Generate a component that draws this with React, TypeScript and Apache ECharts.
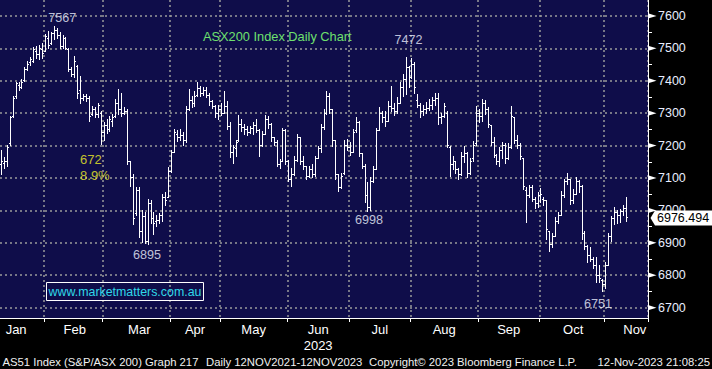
import React, { useEffect, useRef } from 'react';
import * as echarts from 'echarts';

// ---------- DATA ----------
const monthNames = ['Jan', 'Feb', 'Mar', 'Apr', 'May', 'Jun', 'Jul', 'Aug', 'Sep', 'Oct', 'Nov'];

// daily bars: [open, high, low, close]
const jan = [
  [7140, 7186, 7110, 7150], [7145, 7162, 7128, 7150], [7150, 7200, 7135, 7195], [7205, 7290, 7200, 7285],
  [7290, 7350, 7288, 7345], [7350, 7396, 7345, 7390], [7385, 7395, 7370, 7380], [7380, 7405, 7375, 7395],
  [7400, 7440, 7398, 7435], [7435, 7460, 7430, 7450], [7455, 7472, 7448, 7465], [7460, 7502, 7455, 7495],
  [7490, 7505, 7468, 7480], [7480, 7510, 7465, 7500], [7495, 7515, 7470, 7485],
];
const feb = [
  [7490, 7542, 7490, 7535], [7530, 7552, 7500, 7510], [7515, 7550, 7512, 7545], [7545, 7567, 7526, 7555],
  [7555, 7562, 7530, 7540], [7540, 7548, 7500, 7505], [7505, 7540, 7498, 7530], [7530, 7532, 7495, 7500],
  [7495, 7498, 7428, 7435], [7435, 7440, 7412, 7420], [7420, 7474, 7409, 7460], [7445, 7448, 7345, 7360],
  [7370, 7412, 7331, 7345], [7345, 7356, 7340, 7350], [7350, 7356, 7335, 7345], [7345, 7350, 7273, 7290],
  [7295, 7320, 7294, 7310], [7310, 7316, 7285, 7295], [7295, 7331, 7285, 7325], [7300, 7304, 7202, 7240],
];
const mar = [
  [7240, 7272, 7215, 7262], [7262, 7280, 7238, 7250], [7250, 7290, 7243, 7280], [7275, 7295, 7258, 7285],
  [7290, 7342, 7288, 7330], [7330, 7372, 7295, 7310], [7310, 7362, 7290, 7300], [7300, 7318, 7296, 7305],
  [7305, 7310, 7140, 7150], [7150, 7152, 7075, 7100], [7100, 7110, 6955, 6975], [6990, 7070, 6985, 7060],
  [7060, 7070, 6915, 6935], [6935, 7000, 6902, 6980], [6980, 6992, 6898, 6905], [6905, 7035, 6895, 7020],
  [7020, 7030, 6960, 6975], [6975, 6995, 6925, 6960], [6965, 6985, 6950, 6970], [6970, 6990, 6960, 6985],
  [6985, 7048, 6965, 7040], [7040, 7055, 7015, 7030], [7040, 7131, 7040, 7120],
];
const apr = [
  [7120, 7186, 7118, 7180], [7180, 7248, 7178, 7240], [7235, 7245, 7212, 7225], [7225, 7250, 7215, 7230],
  [7230, 7240, 7200, 7215], [7215, 7320, 7210, 7310], [7310, 7372, 7308, 7340], [7340, 7350, 7318, 7330],
  [7330, 7366, 7320, 7350], [7355, 7393, 7352, 7375], [7375, 7382, 7352, 7360], [7360, 7378, 7355, 7370],
  [7370, 7378, 7348, 7355], [7355, 7362, 7325, 7335], [7335, 7338, 7315, 7320], [7320, 7325, 7288, 7300],
  [7300, 7325, 7280, 7310],
];
const may = [
  [7310, 7330, 7292, 7300], [7300, 7366, 7298, 7320], [7320, 7335, 7248, 7260], [7260, 7270, 7162, 7180],
  [7180, 7200, 7146, 7195], [7190, 7217, 7165, 7210], [7215, 7294, 7212, 7265], [7265, 7280, 7242, 7255],
  [7255, 7265, 7235, 7250], [7250, 7258, 7232, 7240], [7240, 7258, 7238, 7252], [7252, 7270, 7235, 7262],
  [7262, 7280, 7240, 7245], [7245, 7248, 7165, 7200], [7200, 7242, 7198, 7235], [7235, 7294, 7235, 7280],
  [7280, 7290, 7254, 7265], [7265, 7268, 7212, 7225], [7225, 7225, 7200, 7210], [7210, 7215, 7134, 7140],
  [7140, 7156, 7130, 7150], [7150, 7254, 7150, 7245], [7245, 7250, 7140, 7150],
];
const jun = [
  [7150, 7155, 7088, 7095], [7095, 7130, 7075, 7110], [7110, 7165, 7108, 7155], [7155, 7233, 7150, 7225],
  [7225, 7225, 7140, 7150], [7150, 7165, 7125, 7135], [7135, 7135, 7095, 7105], [7105, 7135, 7100, 7125],
  [7125, 7140, 7100, 7110], [7110, 7165, 7105, 7160], [7160, 7198, 7160, 7190], [7190, 7265, 7180, 7255],
  [7255, 7310, 7250, 7300], [7300, 7368, 7295, 7350], [7350, 7360, 7300, 7310], [7310, 7310, 7198, 7215],
  [7215, 7215, 7095, 7110], [7110, 7110, 7058, 7070], [7070, 7115, 7068, 7105], [7115, 7217, 7110, 7200],
  [7200, 7218, 7185, 7195],
];
const jul = [
  [7195, 7208, 7170, 7180], [7180, 7250, 7180, 7240], [7245, 7285, 7240, 7270], [7270, 7275, 7165, 7175],
  [7175, 7175, 7130, 7135], [7135, 7140, 7025, 7045], [7045, 7085, 6998, 7010], [7010, 7100, 7000, 7090],
  [7090, 7134, 7085, 7125], [7125, 7254, 7125, 7245], [7245, 7316, 7245, 7300], [7300, 7305, 7272, 7285],
  [7285, 7305, 7258, 7275], [7275, 7335, 7275, 7320], [7320, 7382, 7305, 7315], [7315, 7330, 7294, 7305],
  [7305, 7348, 7300, 7330], [7330, 7393, 7330, 7380], [7380, 7418, 7350, 7405], [7405, 7472, 7358, 7440],
  [7440, 7445, 7380, 7410],
];
const aug = [
  [7410, 7468, 7408, 7450], [7450, 7455, 7362, 7380], [7340, 7358, 7318, 7325], [7325, 7330, 7288, 7305],
  [7305, 7325, 7294, 7310], [7310, 7332, 7300, 7315], [7315, 7342, 7308, 7325], [7325, 7348, 7310, 7340],
  [7340, 7362, 7325, 7345], [7345, 7360, 7265, 7285], [7285, 7300, 7268, 7290], [7290, 7331, 7285, 7320],
  [7300, 7305, 7195, 7200], [7195, 7198, 7103, 7140], [7140, 7165, 7125, 7150], [7150, 7152, 7115, 7125],
  [7125, 7128, 7094, 7110], [7110, 7178, 7108, 7165], [7165, 7198, 7148, 7175], [7175, 7180, 7100, 7115],
  [7115, 7160, 7112, 7150], [7160, 7212, 7150, 7200], [7205, 7320, 7200, 7300],
];
const sep = [
  [7300, 7312, 7272, 7290], [7290, 7341, 7275, 7330], [7330, 7340, 7295, 7310], [7310, 7316, 7255, 7265],
  [7262, 7262, 7200, 7210], [7210, 7225, 7162, 7170], [7170, 7172, 7140, 7150], [7150, 7195, 7135, 7185],
  [7185, 7210, 7160, 7200], [7200, 7205, 7146, 7160], [7160, 7205, 7158, 7195], [7195, 7320, 7190, 7290],
  [7285, 7285, 7205, 7215], [7215, 7230, 7192, 7200], [7200, 7205, 7156, 7165], [7160, 7160, 7065, 7075],
  [7060, 7070, 6962, 7045], [7045, 7078, 7040, 7070], [7070, 7078, 7026, 7035], [7035, 7040, 7005, 7020],
  [7020, 7055, 7010, 7045],
];
const oct = [
  [7045, 7069, 7023, 7050], [7035, 7040, 7015, 7030], [7030, 7032, 6910, 6940], [6935, 6935, 6872, 6895],
  [6895, 6930, 6885, 6920], [6920, 6978, 6920, 6965], [6965, 6995, 6960, 6985], [6985, 7057, 6985, 7045],
  [7045, 7095, 7040, 7090], [7090, 7115, 7080, 7095], [7095, 7096, 7018, 7030], [7030, 7063, 7022, 7050],
  [7050, 7100, 7050, 7090], [7090, 7092, 7055, 7075], [7075, 7078, 6909, 6930], [6930, 6935, 6878, 6890],
  [6890, 6893, 6838, 6860], [6860, 6884, 6841, 6850], [6850, 6856, 6822, 6830], [6830, 6856, 6779, 6800],
  [6800, 6831, 6778, 6790], [6785, 6786, 6751, 6770],
];
const nov = [
  [6770, 6838, 6760, 6830], [6830, 6930, 6830, 6920], [6920, 6980, 6905, 6975], [6975, 7010, 6955, 6995],
  [6995, 7000, 6960, 6985], [6985, 7002, 6962, 6998], [6998, 7015, 6985, 7005], [7005, 7041, 6965, 6976.494],
];
const monthBars = [jan, feb, mar, apr, may, jun, jul, aug, sep, oct, nov];
const emptyTrailingDays = 7;

const yTicks = [6700, 6800, 6900, 7000, 7100, 7200, 7300, 7400, 7500, 7600];
const yMin = 6668;
const yMax = 7649;
const lastPrice = 6976.494;

// callouts: bar index and which extreme to print
const callouts = [
  { index: 18, pick: 'high', dx: 8, dy: -9 },
  { index: 50, pick: 'low', dx: -1, dy: 10.5 },
  { index: 125, pick: 'low', dx: 1, dy: 9 },
  { index: 138, pick: 'high', dx: 2.5, dy: -17.5 },
  { index: 205, pick: 'low', dx: -4.5, dy: 12.8 },
];
const dropFrom = { index: 18, pick: 'high' };
const dropTo = { index: 50, pick: 'low' };

const chartTitle = 'ASX200 Index Daily Chart';
const watermark = 'www.marketmatters.com.au';
const footerLeft = 'AS51 Index (S&P/ASX 200) Graph 217';
const footerRange = 'Daily 12NOV2021-12NOV2023';
const footerCopy = 'Copyright\u00a9 2023 Bloomberg Finance L.P.';
const footerTime = '12-Nov-2023 21:08:25';

// ---------- LAYOUT ----------
const W = 712;
const H = 369;
const GRID_RIGHT = 64;
const GRID_BOTTOM = 51;
const NAVY = '#0f0d4a';
const GRIDC = '#9a9a9a';
const FONT = '"Liberation Sans", Arial, sans-serif';
const labelAnchors: Record<number, string> = {
  5: 'Jan', 25: 'Feb', 47: 'Mar', 66: 'Apr', 86: 'May', 108: 'Jun\n2023',
  129: 'Jul', 151: 'Aug', 173: 'Sep', 195: 'Oct', 216: 'Nov',
};

export default function App() {
  const ref = useRef<HTMLDivElement>(null);
  useEffect(() => {
    if (!ref.current) return;
    const chart = echarts.init(ref.current, undefined, { renderer: 'svg' });

    const bars: number[][] = [];
    const categories: string[] = [];
    const monthStarts = new Set<number>();
    monthBars.forEach((m, mi) => {
      if (mi > 0) monthStarts.add(bars.length);
      m.forEach((b, d) => {
        categories.push(`${monthNames[mi]} ${d + 1}`);
        bars.push([bars.length, b[0], b[1], b[2], b[3]]);
      });
    });
    for (let k = 0; k < emptyTrailingDays; k++) categories.push(`pad${k}`);

    const valueOf = (c: { index: number; pick: string }) =>
      c.pick === 'high' ? bars[c.index][2] : bars[c.index][3];

    const peak = valueOf(dropFrom);
    const trough = valueOf(dropTo);
    const drop = Math.round(peak - trough);
    const dropPct = ((peak - trough) / peak * 100).toFixed(1);

    const calloutData: any[] = callouts.map((c) => ({
      value: [c.index, valueOf(c)],
      label: {
        show: true,
        position: 'inside',
        formatter: String(Math.round(valueOf(c))),
        offset: [c.dx, c.dy],
        color: '#eef2ff',
        fontSize: 12.6,
        fontFamily: FONT,
      },
    }));
    calloutData.push({
      value: [27, 7160],
      label: {
        show: true,
        position: 'inside',
        formatter: `${drop}\n${dropPct}%`,
        offset: [-0.6, 8.7],
        color: '#f2f226',
        fontSize: 13,
        fontFamily: FONT,
        align: 'left',
        lineHeight: 16,
      },
    });

    const lineStyle = { stroke: '#ffffff', lineWidth: 1 };

    chart.setOption({
      animation: false,
      backgroundColor: '#000000',
      grid: {
        left: 0, right: GRID_RIGHT, top: 0, bottom: GRID_BOTTOM,
        show: true, backgroundColor: NAVY, borderWidth: 0,
      },
      xAxis: {
        type: 'category',
        data: categories,
        boundaryGap: true,
        axisLine: { show: true, lineStyle: { color: '#ffffff', width: 1 } },
        axisTick: {
          show: true, length: 4,
          interval: (i: number) => monthStarts.has(i),
          lineStyle: { color: '#ffffff' },
        },
        axisLabel: {
          show: true,
          interval: (i: number) => labelAnchors[i] !== undefined,
          formatter: (_v: string, i: number) => labelAnchors[i] ?? '',
          color: '#ffffff', fontSize: 13, fontFamily: FONT, margin: 3, lineHeight: 16.5,
        },
        splitLine: {
          show: true,
          interval: (i: number) => monthStarts.has(i),
          lineStyle: { color: GRIDC, type: [2, 3], width: 1.5 },
        },
      },
      yAxis: {
        type: 'value',
        position: 'right',
        min: yMin, max: yMax,
        splitNumber: 10, minInterval: 100, maxInterval: 100,
        axisLine: { show: true, lineStyle: { color: '#ffffff', width: 1 } },
        axisTick: { show: false },
        minorTick: { show: true, splitNumber: 2, length: 4, lineStyle: { color: '#ffffff' } },
        axisLabel: {
          showMinLabel: false, showMaxLabel: false, margin: 10,
          formatter: (v: number) => String(v),
          color: '#e8eeff', fontSize: 12.5, fontFamily: FONT,
        },
        splitLine: {
          show: true, showMinLine: false, showMaxLine: false,
          lineStyle: { color: GRIDC, type: [2, 3], width: 1.5 },
        },
      },
      series: [
        {
          type: 'custom',
          data: bars,
          encode: { x: 0, y: [1, 2, 3, 4] },
          clip: true,
          renderItem: (_p: any, api: any) => {
            const i = api.value(0);
            const pO = api.coord([i, api.value(1)]);
            const pH = api.coord([i, api.value(2)]);
            const pL = api.coord([i, api.value(3)]);
            const pC = api.coord([i, api.value(4)]);
            const c = Math.floor(pH[0]);
            const y1 = Math.floor(pH[1]);
            const y2 = Math.max(Math.ceil(pL[1]), y1 + 1);
            const yo = Math.floor(pO[1]) + 0.5;
            const yc = Math.floor(pC[1]) + 0.5;
            return {
              type: 'group',
              children: [
                { type: 'line', shape: { x1: c + 0.5, y1, x2: c + 0.5, y2 }, style: lineStyle },
                { type: 'line', shape: { x1: c - 1, y1: yo, x2: c + 1, y2: yo }, style: lineStyle },
                { type: 'line', shape: { x1: c, y1: yc, x2: c + 2, y2: yc }, style: lineStyle },
              ],
            };
          },
        },
        {
          type: 'scatter',
          symbolSize: 1,
          itemStyle: { color: 'rgba(0,0,0,0)' },
          data: calloutData,
          z: 5,
        },
      ],
    });

    const axisX = W - GRID_RIGHT;
    const tickMarks = yTicks.map((v) => {
      const y = chart.convertToPixel({ yAxisIndex: 0 }, v) as number;
      return {
        type: 'polygon',
        z: 50,
        shape: { points: [[axisX, y - 2.6], [axisX + 8.5, y], [axisX, y + 2.6]] },
        style: { fill: '#ffffff' },
      };
    });
    const yT = chart.convertToPixel({ yAxisIndex: 0 }, lastPrice) as number;

    chart.setOption({
      graphic: [
        ...tickMarks,
        {
          type: 'polygon', z: 100,
          shape: { points: [[axisX + 2.5, yT], [axisX + 7, yT - 7.5], [W, yT - 7.5], [W, yT + 7.5], [axisX + 7, yT + 7.5]] },
          style: { fill: '#ffffff' },
        },
        {
          type: 'text', z: 101, x: axisX + 9, y: yT,
          style: { text: lastPrice.toFixed(3), fill: '#000000', font: `12.5px ${FONT}`, textVerticalAlign: 'middle' },
        },
        {
          type: 'text', z: 100, x: 203, y: 36.5,
          style: { text: chartTitle, fill: '#6ee06e', font: `12.8px ${FONT}`, textVerticalAlign: 'middle' },
        },
        {
          type: 'rect', z: 100,
          shape: { x: 46.5, y: 282.5, width: 157, height: 18 },
          style: { fill: 'none', stroke: '#ffffff', lineWidth: 1 },
        },
        {
          type: 'text', z: 101, x: 125, y: 291.8,
          style: { text: watermark, fill: '#30d8e8', font: `12.4px ${FONT}`, textAlign: 'center', textVerticalAlign: 'middle' },
        },
        {
          type: 'text', z: 100, x: 2.5, y: 361.5,
          style: { text: footerLeft, fill: '#f0f0f0', font: `11.3px ${FONT}`, textVerticalAlign: 'middle' },
        },
        {
          type: 'text', z: 100, x: 206, y: 361.5,
          style: { text: footerRange, fill: '#f0f0f0', font: `11.3px ${FONT}`, textVerticalAlign: 'middle' },
        },
        {
          type: 'text', z: 100, x: 369, y: 361.5,
          style: { text: footerCopy, fill: '#f0f0f0', font: `11.3px ${FONT}`, textVerticalAlign: 'middle' },
        },
        {
          type: 'text', z: 100, x: 710, y: 361.5,
          style: { text: footerTime, fill: '#f0f0f0', font: `11.3px ${FONT}`, textAlign: 'right', textVerticalAlign: 'middle' },
        },
      ],
    });

    return () => chart.dispose();
  }, []);

  return (
    <div
      ref={ref}
      style={{ position: 'fixed', left: 0, top: 0, width: W, height: H, background: '#000' }}
    />
  );
}
